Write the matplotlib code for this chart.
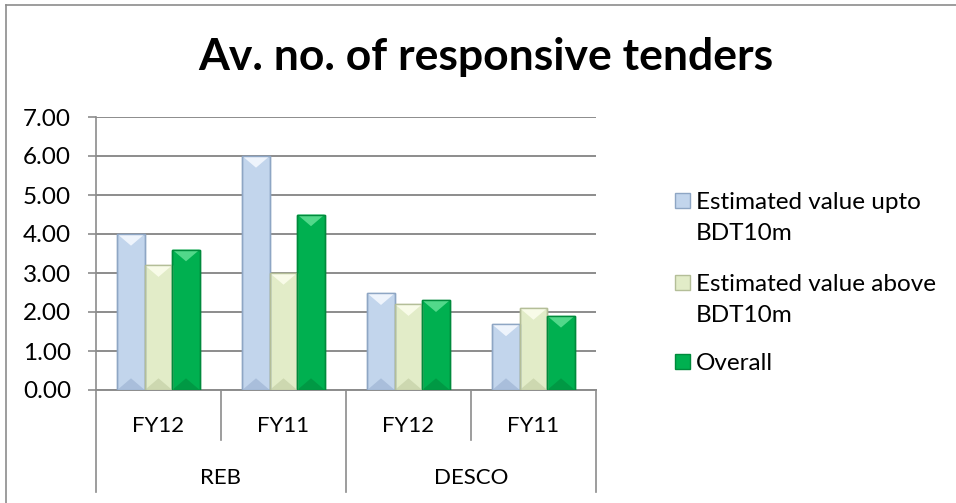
import matplotlib.pyplot as plt
import numpy as np
from matplotlib.lines import Line2D
from matplotlib.patches import Rectangle, Polygon

# 数据
groups = ["REB", "DESCO"]
years = ["FY12", "FY11", "FY12", "FY11"]
series_names = ["Estimated value upto\nBDT10m", "Estimated value above\nBDT10m", "Overall"]
upto = [4.0, 6.0, 2.48, 1.68]
above = [3.2, 3.0, 2.2, 2.1]
overall = [3.6, 4.5, 2.3, 1.9]
yticks = [0, 1, 2, 3, 4, 5, 6, 7]

colors = ["#c2d5ec", "#e2ecc8", "#00b050"]
edges = ["#8ea6c4", "#b4be98", "#008a3c"]
lights = ["#eef4fc", "#f8fbe8", "#52d88a"]
darks = ["#a9bedb", "#cdd8b0", "#009944"]

W, H = 956, 503
plt.rcParams['font.family'] = ['Lato', 'DejaVu Sans']
fig = plt.figure(figsize=(9.56, 5.03), dpi=100)
ax = fig.add_axes([96 / W, 1 - 390 / H, 500 / W, 273 / H])

x = np.arange(len(years)) + 0.5
w = 0.22
d = 0.3  # 斜面深度
for i, vals in enumerate([upto, above, overall]):
    bars = ax.bar(x + (i - 1) * w, vals, w, color=colors[i], edgecolor=edges[i],
                  linewidth=1, zorder=3)
    # 简单的斜面效果
    for b in bars:
        bx, bw, bh = b.get_x(), b.get_width(), b.get_height()
        ax.add_patch(Polygon([(bx, bh), (bx + bw, bh), (bx + bw / 2, bh - d)],
                             closed=True, facecolor=lights[i], edgecolor="none", zorder=4))
        ax.add_patch(Polygon([(bx, 0), (bx + bw, 0), (bx + bw / 2, d)],
                             closed=True, facecolor=darks[i], edgecolor="none", zorder=4))
        ax.add_patch(Rectangle((bx, 0), bw, bh, facecolor="none", edgecolor=edges[i],
                               linewidth=1, zorder=5))

ax.set_xlim(0, 4)
ax.set_ylim(0, 7)
ax.set_yticks(yticks)
ax.set_yticklabels(["%.2f" % v for v in yticks], fontsize=17.5)
ax.yaxis.grid(True, color="#8c8c8c", linewidth=1.4, zorder=0)
ax.set_xticks([])
ax.tick_params(axis="y", length=6, width=1.2, color="#8c8c8c", pad=12)
for s in ["top", "right"]:
    ax.spines[s].set_visible(False)
ax.spines["left"].set_color("#8c8c8c")
ax.spines["bottom"].set_color("#8c8c8c")
ax.spines["left"].set_linewidth(1.2)
ax.spines["bottom"].set_linewidth(1.4)

# 多级分类轴
tr = ax.get_xaxis_transform()
for i, yr in enumerate(years):
    ax.text(i + 0.5, (390 - 431.5) / 273, yr, transform=tr, ha="center", va="baseline",
            fontsize=16)
for j, g in enumerate(groups):
    ax.text(2 * j + 1, (390 - 484) / 273, g, transform=tr, ha="center", va="baseline",
            fontsize=16)
for xv in [0, 2, 4]:
    ax.add_line(Line2D([xv, xv], [0, (390 - 492) / 273], transform=tr, color="#8c8c8c",
                       linewidth=1.2, clip_on=False))
for xv in [1, 3]:
    ax.add_line(Line2D([xv, xv], [0, (390 - 440) / 273], transform=tr, color="#8c8c8c",
                       linewidth=1.2, clip_on=False))

# 标题
fig.text(486 / W, 1 - 70 / H, "Av. no. of responsive tenders", ha="center",
         va="baseline", fontsize=32, fontweight="bold")

# 图例（手动绘制）
leg_base = [209, 291, 370]
for i, name in enumerate(series_names):
    yb = leg_base[i]
    fig.add_artist(Rectangle((675 / W, 1 - (yb - 1) / H), 15 / W, 15 / H,
                             transform=fig.transFigure, facecolor=colors[i],
                             edgecolor=edges[i], linewidth=1))
    for k, line in enumerate(name.split("\n")):
        fig.text(696 / W, 1 - (yb + k * 31) / H, line, ha="left", va="baseline",
                 fontsize=17.5)

# 外框
fig.add_artist(Line2D([6 / W, 1], [1 - 5 / H, 1 - 5 / H], transform=fig.transFigure,
                      color="#8c8c8c", linewidth=1.2))
fig.add_artist(Line2D([6 / W, 6 / W], [0, 1 - 5 / H], transform=fig.transFigure,
                      color="#8c8c8c", linewidth=1.2))

fig.savefig("out.png", dpi=100)
